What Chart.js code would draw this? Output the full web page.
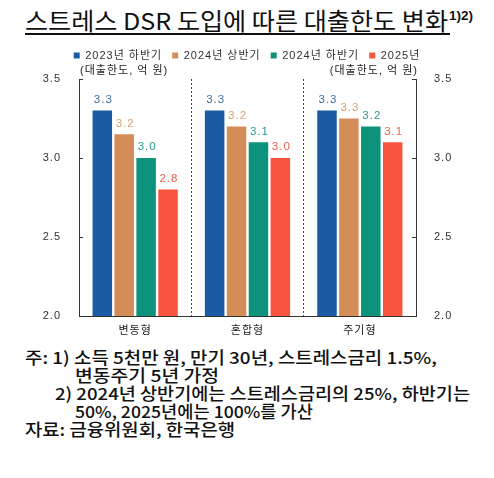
<!DOCTYPE html>
<html>
<head>
<meta charset="utf-8">
<script src="https://cdn.jsdelivr.net/npm/chart.js@4.4.1/dist/chart.umd.min.js"></script>
<style>
body { margin: 0; width: 494px; height: 478px; background: #fff; position: relative; overflow: hidden; font-family: "Noto Sans CJK KR", sans-serif; color: #111; }
.fit { position: absolute; white-space: nowrap; transform-origin: 0 0; }
#title { left: 25px; top: 6px; font-size: 23.5px; line-height: 28px; font-weight: 400; }
#sup { position: absolute; left: 449px; top: 8px; font-family: "Liberation Sans", sans-serif; font-size: 13.5px; font-weight: bold; }
#uline { position: absolute; left: 25px; top: 33px; width: 425px; height: 1.5px; background: #111; }
#chartBox { position: absolute; left: 0; top: 40px; width: 494px; height: 300px; }
.note { font-size: 16.5px; line-height: 18px; font-weight: 500; }
</style>
</head>
<body>
<div id="title" class="fit" data-w="423">스트레스 DSR 도입에 따른 대출한도 변화</div>
<div id="sup">1)2)</div>
<div id="uline"></div>
<div id="chartBox"><canvas id="chart"></canvas></div>
<div class="fit note" style="left:25px;top:348px" data-w="412">주: 1) 소득 5천만 원, 만기 30년, 스트레스금리 1.5%,</div>
<div class="fit note" style="left:75px;top:366px" data-w="144">변동주기 5년 가정</div>
<div class="fit note" style="left:55px;top:384px" data-w="415">2) 2024년 상반기에는 스트레스금리의 25%, 하반기는</div>
<div class="fit note" style="left:75px;top:402px" data-w="238">50%, 2025년에는 100%를 가산</div>
<div class="fit note" style="left:25px;top:420px" data-w="210">자료: 금융위원회, 한국은행</div>

<script>
// 데이터
var categories = ["변동형", "혼합형", "주기형"];
var seriesNames = ["2023년 하반기", "2024년 상반기", "2024년 하반기", "2025년"];
var h2023 = [3.3, 3.3, 3.3];
var h2024a = [3.15, 3.2, 3.25];
var h2024b = [3.0, 3.1, 3.2];
var y2025 = [2.8, 3.0, 3.1];
var yTicks = [2.0, 2.5, 3.0, 3.5];
var unitLabel = "(대출한도, 억 원)";

var barColors = ["#1b5aa5", "#d48d58", "#0d937b", "#f9553e"];
var labelColors = ["#3d6fa8", "#d9a070", "#2a9890", "#e8604f"];
var chartFont = '"Liberation Sans", "Noto Sans CJK KR", sans-serif';

// 제목, 주석 폭 맞추기
document.querySelectorAll('[data-w]').forEach(function (el) {
	var w = el.getBoundingClientRect().width;
	el.style.transform = 'scaleX(' + (el.dataset.w / w) + ')';
});

var seriesValues = [h2023, h2024a, h2024b, y2025];
var datasets = [];
for (var i = 0; i < seriesValues.length; i++) {
	datasets.push({
		label: seriesNames[i],
		data: seriesValues[i],
		backgroundColor: barColors[i],
		borderWidth: 0,
		barPercentage: 0.89,
		categoryPercentage: 0.78
	});
}

// 글자 간격 (캔버스 상태는 크기 바뀌면 초기화됨)
function spacing(chart) {
	if ('letterSpacing' in chart.ctx) chart.ctx.letterSpacing = '1px';
}
var letterSpace = {
	id: 'letterSpace',
	beforeLayout: spacing,
	beforeDraw: spacing
};

// 막대 위 값
var valueLabels = {
	id: 'valueLabels',
	afterDatasetsDraw: function (chart) {
		var ctx = chart.ctx;
		ctx.save();
		ctx.font = '11.5px ' + chartFont;
		ctx.textAlign = 'center';
		ctx.textBaseline = 'bottom';
		chart.data.datasets.forEach(function (ds, di) {
			var meta = chart.getDatasetMeta(di);
			ctx.fillStyle = labelColors[di];
			meta.data.forEach(function (bar, j) {
				var v = Math.round(ds.data[j] * 10) / 10;
				ctx.fillText(v.toFixed(1), bar.x + 1, bar.y - 5);
			});
		});
		ctx.restore();
	}
};

// 안쪽 눈금, 단위 표시
var axisExtras = {
	id: 'axisExtras',
	afterDraw: function (chart) {
		var ctx = chart.ctx;
		var a = chart.chartArea;
		var yl = chart.scales.y;
		ctx.save();
		ctx.strokeStyle = '#333';
		ctx.lineWidth = 1;
		yTicks.forEach(function (t) {
			var py = Math.round(yl.getPixelForValue(t)) + 0.5;
			ctx.beginPath();
			ctx.moveTo(a.left, py); ctx.lineTo(a.left + 4, py);
			ctx.moveTo(a.right, py); ctx.lineTo(a.right - 4, py);
			ctx.stroke();
		});
		ctx.fillStyle = '#222';
		ctx.font = '11px ' + chartFont;
		ctx.textBaseline = 'middle';
		ctx.textAlign = 'left';
		ctx.fillText(unitLabel, a.left + 1, a.top - 8);
		ctx.textAlign = 'right';
		ctx.fillText(unitLabel, a.right + 2, a.top - 8);
		ctx.restore();
	}
};

// 범례 높이 고정
var legendHeight = {
	id: 'legendHeight',
	beforeInit: function (chart) {
		var fit = chart.legend.fit;
		chart.legend.fit = function () {
			fit.bind(chart.legend)();
			this.height = 39;
		};
	}
};

var tickCb = function (v) { return Number(v).toFixed(1); };

new Chart(document.getElementById('chart'), {
	type: 'bar',
	data: { labels: categories, datasets: datasets },
	options: {
		responsive: true,
		maintainAspectRatio: false,
		animation: false,
		layout: { padding: 0 },
		plugins: {
			legend: {
				position: 'top',
				labels: {
					boxWidth: 6,
					boxHeight: 6,
					padding: 10,
					color: '#333',
					font: { size: 11, family: chartFont }
				}
			},
			tooltip: { enabled: false }
		},
		scales: {
			x: {
				grid: {
					offset: true,
					drawTicks: false,
					lineWidth: 1,
					color: function (c) { return (c.index === 0 || c.index === categories.length) ? 'rgba(0,0,0,0)' : '#444'; }
				},
				border: { display: true, color: '#333', width: 1, dash: [2, 2] },
				ticks: { padding: 8, color: '#222', font: { size: 11, family: chartFont } },
				afterFit: function (s) { s.height = 24; }
			},
			y: {
				position: 'left',
				min: 2, max: 3.5,
				grid: { display: false },
				border: { display: true, color: '#333', width: 1 },
				ticks: { stepSize: 0.5, padding: 10, color: '#333', font: { size: 11, family: chartFont }, callback: tickCb },
				afterFit: function (s) { s.width = 79; }
			},
			y2: {
				position: 'right',
				min: 2, max: 3.5,
				grid: { display: false },
				border: { display: true, color: '#333', width: 1 },
				ticks: { stepSize: 0.5, padding: 10, color: '#333', font: { size: 11, family: chartFont }, callback: tickCb },
				afterFit: function (s) { s.width = 78; }
			}
		}
	},
	plugins: [legendHeight, letterSpace, valueLabels, axisExtras]
});
</script>
</body>
</html>
